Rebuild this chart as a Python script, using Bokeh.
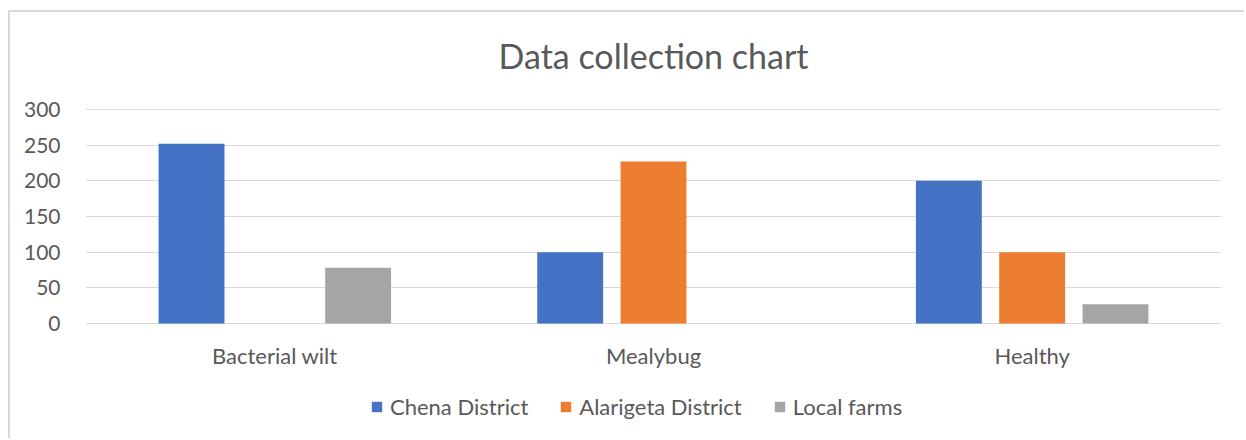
from bokeh.plotting import figure
from bokeh.models import ColumnDataSource, FactorRange, Range1d, Legend, LegendItem, FixedTicker, Label
from bokeh.transform import dodge
from bokeh.core.properties import value
from bokeh.embed import file_html
from bokeh.resources import INLINE

categories = ["Bacterial wilt", "Mealybug", "Healthy"]
chena = [252, 100, 200]
alarigeta = [0, 227, 100]
local_farms = [78, 0, 27]
series_names = ["Chena District", "Alarigeta District", "Local farms"]
colors = ["#4472C4", "#ED7D31", "#A5A5A5"]
y_ticks = [0, 50, 100, 150, 200, 250, 300]
title_text = "Data collection chart"

FONT = "Lato"
TXT = "#595959"

src = ColumnDataSource(dict(cat=categories, chena=chena, alarigeta=alarigeta, local=local_farms))

# frame spans the whole chart box so title, category labels and legend sit inside it
p = figure(x_range=FactorRange(*categories), y_range=Range1d(-150, 436),
           width=1236, height=428, output_backend="svg", toolbar_location=None,
           min_border_left=75, min_border_right=25, min_border_top=0, min_border_bottom=10)
p.styles = {"border-left": "2px solid #D9D9D9", "border-top": "2px solid #D9D9D9",
            "margin-top": "10px", "margin-left": "8px"}

offs = [-0.22, 0.0, 0.22]
keys = ["chena", "alarigeta", "local"]
renderers = []
for k, o, c in zip(keys, offs, colors):
    r = p.vbar(x=dodge("cat", o, range=p.x_range), top=k, width=0.174, source=src,
               fill_color=c, line_color=None)
    renderers.append(r)

# category labels below the zero line
p.text(x="cat", y=-45, text="cat", source=src, text_align="center", text_baseline="middle",
       text_font=value(FONT), text_font_size="22px", text_color=TXT)

# chart title, centred over the plot area
p.add_layout(Label(x=1.5, y=376, text=title_text, text_align="center", text_baseline="middle",
                   text_font=FONT, text_font_size="34px", text_color=TXT))

p.outline_line_color = None
p.xgrid.grid_line_color = None
p.ygrid.grid_line_color = "#D9D9D9"
p.ygrid.grid_line_width = 1
p.ygrid.ticker = FixedTicker(ticks=y_ticks)

p.yaxis.ticker = FixedTicker(ticks=y_ticks)
p.yaxis.axis_line_color = None
p.yaxis.major_tick_line_color = None
p.yaxis.minor_tick_line_color = None
p.yaxis.major_label_standoff = 19
p.yaxis.major_label_text_font = FONT
p.yaxis.major_label_text_font_size = "21px"
p.yaxis.major_label_text_color = TXT

p.xaxis.visible = False

legend = Legend(items=[LegendItem(label=n, renderers=[r]) for n, r in zip(series_names, renderers)],
                orientation="horizontal", location=(285, 10),
                glyph_width=13, glyph_height=13, label_standoff=7, spacing=31,
                padding=0, margin=0, border_line_color=None, background_fill_alpha=0,
                label_text_font=FONT, label_text_font_size="22px", label_text_color=TXT)
p.add_layout(legend, "center")

open("out.html", "w").write(file_html(p, INLINE))
